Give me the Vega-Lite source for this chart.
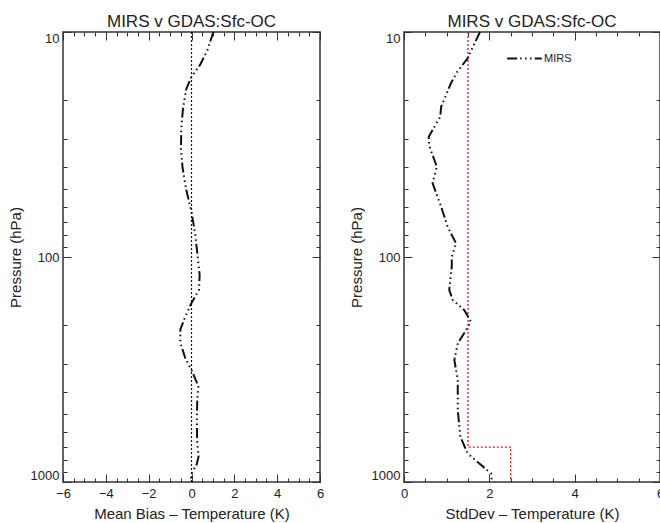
{
  "$schema": "https://vega.github.io/schema/vega-lite/v6.json",
  "padding": {"left": 7, "top": 12, "right": 0, "bottom": 0},
  "background": "white",
  "spacing": 84,
  "bounds": "flush",
  "config": {
    "font": "Liberation Sans",
    "view": {"stroke": "#333", "strokeWidth": 1.5},
    "axis": {
      "domain": false,
      "tickColor": "#333",
      "labelColor": "#222",
      "titleColor": "#222",
      "labelFontSize": 13,
      "titleFontSize": 15,
      "titleFontWeight": "normal",
      "grid": false,
      "labelOverlap": false,
      "labelFlush": false
    },
    "title": {"fontSize": 17, "fontWeight": "normal", "color": "#222", "offset": -3, "anchor": "middle"}
  },
  "datasets": {
    "bias": [
      {"x": 1.02, "p": 10}, {"x": 0.75, "p": 12}, {"x": 0.4, "p": 14}, {"x": 0.0, "p": 15.8},
      {"x": -0.25, "p": 18}, {"x": -0.4, "p": 22}, {"x": -0.48, "p": 27}, {"x": -0.49, "p": 33},
      {"x": -0.42, "p": 40}, {"x": -0.25, "p": 50}, {"x": 0.0, "p": 63}, {"x": 0.18, "p": 80},
      {"x": 0.29, "p": 100}, {"x": 0.38, "p": 120}, {"x": 0.35, "p": 140}, {"x": 0.0, "p": 160},
      {"x": -0.3, "p": 185}, {"x": -0.52, "p": 210}, {"x": -0.52, "p": 240}, {"x": -0.3, "p": 280},
      {"x": 0.0, "p": 318}, {"x": 0.32, "p": 375}, {"x": 0.27, "p": 430}, {"x": 0.25, "p": 520},
      {"x": 0.26, "p": 650}, {"x": 0.33, "p": 770}, {"x": 0.25, "p": 830}, {"x": 0.1, "p": 880},
      {"x": 0.0, "p": 930}, {"x": -0.04, "p": 980}
    ],
    "zero": [{"x": 0, "p": 10}, {"x": 0, "p": 1000}],
    "sd": [
      {"x": 1.78, "p": 10}, {"x": 1.49, "p": 13.1}, {"x": 1.25, "p": 15}, {"x": 1.1, "p": 16.9},
      {"x": 0.87, "p": 21.5}, {"x": 0.85, "p": 23.8}, {"x": 0.58, "p": 29.2}, {"x": 0.59, "p": 32},
      {"x": 0.77, "p": 39.7}, {"x": 0.67, "p": 47}, {"x": 0.87, "p": 59.7}, {"x": 1.02, "p": 73.3},
      {"x": 1.22, "p": 86.9}, {"x": 1.12, "p": 100}, {"x": 1.12, "p": 110}, {"x": 1.06, "p": 140},
      {"x": 1.14, "p": 155}, {"x": 1.41, "p": 172}, {"x": 1.57, "p": 194}, {"x": 1.41, "p": 218},
      {"x": 1.26, "p": 242}, {"x": 1.18, "p": 287}, {"x": 1.26, "p": 352}, {"x": 1.26, "p": 479},
      {"x": 1.32, "p": 629}, {"x": 1.49, "p": 745}, {"x": 1.76, "p": 826}, {"x": 2.04, "p": 915},
      {"x": 2.06, "p": 990}
    ],
    "req": [
      {"i": 1, "x": 1.5, "p": 10}, {"i": 2, "x": 1.5, "p": 700},
      {"i": 3, "x": 2.5, "p": 700}, {"i": 4, "x": 2.5, "p": 1000}
    ]
  },
  "hconcat": [
    {
      "width": 257,
      "height": 450,
      "title": "MIRS v GDAS:Sfc-OC",
      "resolve": {"axis": {"x": "independent", "y": "independent"}},
      "layer": [
        {
          "data": {"name": "zero"},
          "mark": {"type": "line", "color": "#111", "strokeWidth": 1.2, "strokeDash": [2, 2]},
          "encoding": {
            "x": {"field": "x", "type": "quantitative",
              "scale": {"domain": [-6, 6], "nice": false, "zero": false},
              "axis": {"orient": "bottom", "title": "Mean Bias \u2013 Temperature (K)", "format": "d", "ticks": false,
                "values": [-6,-4,-2,0,2,4,6], "labelPadding": 5, "titlePadding": 6}},
            "y": {"field": "p", "type": "quantitative",
              "scale": {"type": "log", "domain": [10, 1000], "reverse": true, "nice": false},
              "axis": {"orient": "left", "title": "Pressure (hPa)", "format": "d", "labelFlush": true, "ticks": false,
                "values": [10, 100, 1000], "labelPadding": 4, "titlePadding": 7}},
            "order": {"field": "p", "type": "quantitative"}
          }
        },
        {
          "data": {"name": "bias"},
          "mark": {"type": "line", "color": "#111", "strokeWidth": 2, "strokeDash": [10, 3, 1.5, 3.5, 1.5, 3.5, 1.5, 3]},
          "encoding": {
            "x": {"field": "x", "type": "quantitative",
              "axis": {"orient": "top", "title": null, "labels": false, "tickSize": 8, "offset": -8, "values": [-6,-4,-2,0,2,4,6]}},
            "y": {"field": "p", "type": "quantitative",
              "axis": {"orient": "right", "title": null, "labels": false, "tickSize": 8, "offset": -8, "values": [10, 100, 1000]}},
            "order": {"field": "p", "type": "quantitative"}
          }
        },
        {
          "data": {"name": "zero"},
          "mark": {"type": "line", "opacity": 0},
          "encoding": {
            "x": {"field": "x", "type": "quantitative",
              "axis": {"orient": "bottom", "title": null, "labels": false, "tickSize": 8, "offset": -8, "values": [-6,-4,-2,0,2,4,6]}},
            "y": {"field": "p", "type": "quantitative",
              "axis": {"orient": "left", "title": null, "labels": false, "tickSize": 8, "offset": -8, "values": [10, 100, 1000]}}
          }
        },
        {
          "data": {"name": "zero"},
          "mark": {"type": "line", "opacity": 0},
          "encoding": {
            "x": {"field": "x", "type": "quantitative",
              "axis": {"orient": "bottom", "title": null, "labels": false, "tickSize": 4, "offset": -4,
                "values": [-6,-5.5,-5,-4.5,-4,-3.5,-3,-2.5,-2,-1.5,-1,-0.5,0,0.5,1,1.5,2,2.5,3,3.5,4,4.5,5,5.5,6]}},
            "y": {"field": "p", "type": "quantitative",
              "axis": {"orient": "left", "title": null, "labels": false, "tickSize": 4, "offset": -4,
                "values": [10,20,30,40,50,60,70,80,90,100,200,300,400,500,600,700,800,900,1000]}}
          }
        },
        {
          "data": {"name": "zero"},
          "mark": {"type": "line", "opacity": 0},
          "encoding": {
            "x": {"field": "x", "type": "quantitative",
              "axis": {"orient": "top", "title": null, "labels": false, "tickSize": 4, "offset": -4,
                "values": [-6,-5.5,-5,-4.5,-4,-3.5,-3,-2.5,-2,-1.5,-1,-0.5,0,0.5,1,1.5,2,2.5,3,3.5,4,4.5,5,5.5,6]}},
            "y": {"field": "p", "type": "quantitative",
              "axis": {"orient": "right", "title": null, "labels": false, "tickSize": 4, "offset": -4,
                "values": [10,20,30,40,50,60,70,80,90,100,200,300,400,500,600,700,800,900,1000]}}
          }
        }
      ]
    },
    {
      "width": 256,
      "height": 450,
      "title": "MIRS v GDAS:Sfc-OC",
      "resolve": {"axis": {"x": "independent", "y": "independent"}},
      "layer": [
        {
          "data": {"name": "req"},
          "mark": {"type": "line", "color": "#e01010", "strokeWidth": 1.3, "strokeDash": [2, 2]},
          "encoding": {
            "x": {"field": "x", "type": "quantitative",
              "scale": {"domain": [0, 6], "nice": false},
              "axis": {"orient": "bottom", "title": "StdDev \u2013 Temperature (K)", "format": "d", "ticks": false,
                "values": [0, 2, 4, 6], "labelPadding": 5, "titlePadding": 6}},
            "y": {"field": "p", "type": "quantitative",
              "scale": {"type": "log", "domain": [10, 1000], "reverse": true, "nice": false},
              "axis": {"orient": "left", "title": "Pressure (hPa)", "format": "d", "labelFlush": true, "ticks": false,
                "values": [10, 100, 1000], "labelPadding": 4, "titlePadding": 7}},
            "order": {"field": "i", "type": "quantitative"}
          }
        },
        {
          "data": {"name": "sd"},
          "transform": [{"calculate": "'MIRS'", "as": "series"}],
          "mark": {"type": "line", "color": "#111", "strokeWidth": 2},
          "encoding": {
            "x": {"field": "x", "type": "quantitative",
              "axis": {"orient": "top", "title": null, "labels": false, "tickSize": 8, "offset": -8, "values": [0, 2, 4, 6]}},
            "y": {"field": "p", "type": "quantitative",
              "axis": {"orient": "right", "title": null, "labels": false, "tickSize": 8, "offset": -8, "values": [10, 100, 1000]}},
            "strokeDash": {"field": "series", "type": "nominal",
              "scale": {"domain": ["MIRS"], "range": [[10, 3, 1.5, 3.5, 1.5, 3.5, 1.5, 3]]},
              "legend": {"orient": "none", "legendX": 443, "legendY": 8, "title": null,
                "symbolType": "stroke", "symbolSize": 1200, "symbolStrokeWidth": 2, "symbolStrokeColor": "#111",
                "labelFontSize": 11, "labelColor": "#222", "labelOffset": 1}},
            "order": {"field": "p", "type": "quantitative"}
          }
        },
        {
          "data": {"name": "req"},
          "mark": {"type": "line", "opacity": 0},
          "encoding": {
            "x": {"field": "x", "type": "quantitative",
              "axis": {"orient": "bottom", "title": null, "labels": false, "tickSize": 8, "offset": -8, "values": [0, 2, 4, 6]}},
            "y": {"field": "p", "type": "quantitative",
              "axis": {"orient": "left", "title": null, "labels": false, "tickSize": 8, "offset": -8, "values": [10, 100, 1000]}}
          }
        },
        {
          "data": {"name": "req"},
          "mark": {"type": "line", "opacity": 0},
          "encoding": {
            "x": {"field": "x", "type": "quantitative",
              "axis": {"orient": "bottom", "title": null, "labels": false, "tickSize": 4, "offset": -4,
                "values": [0,0.5,1,1.5,2,2.5,3,3.5,4,4.5,5,5.5,6]}},
            "y": {"field": "p", "type": "quantitative",
              "axis": {"orient": "left", "title": null, "labels": false, "tickSize": 4, "offset": -4,
                "values": [10,20,30,40,50,60,70,80,90,100,200,300,400,500,600,700,800,900,1000]}}
          }
        },
        {
          "data": {"name": "req"},
          "mark": {"type": "line", "opacity": 0},
          "encoding": {
            "x": {"field": "x", "type": "quantitative",
              "axis": {"orient": "top", "title": null, "labels": false, "tickSize": 4, "offset": -4,
                "values": [0,0.5,1,1.5,2,2.5,3,3.5,4,4.5,5,5.5,6]}},
            "y": {"field": "p", "type": "quantitative",
              "axis": {"orient": "right", "title": null, "labels": false, "tickSize": 4, "offset": -4,
                "values": [10,20,30,40,50,60,70,80,90,100,200,300,400,500,600,700,800,900,1000]}}
          }
        }
      ]
    }
  ]
}
